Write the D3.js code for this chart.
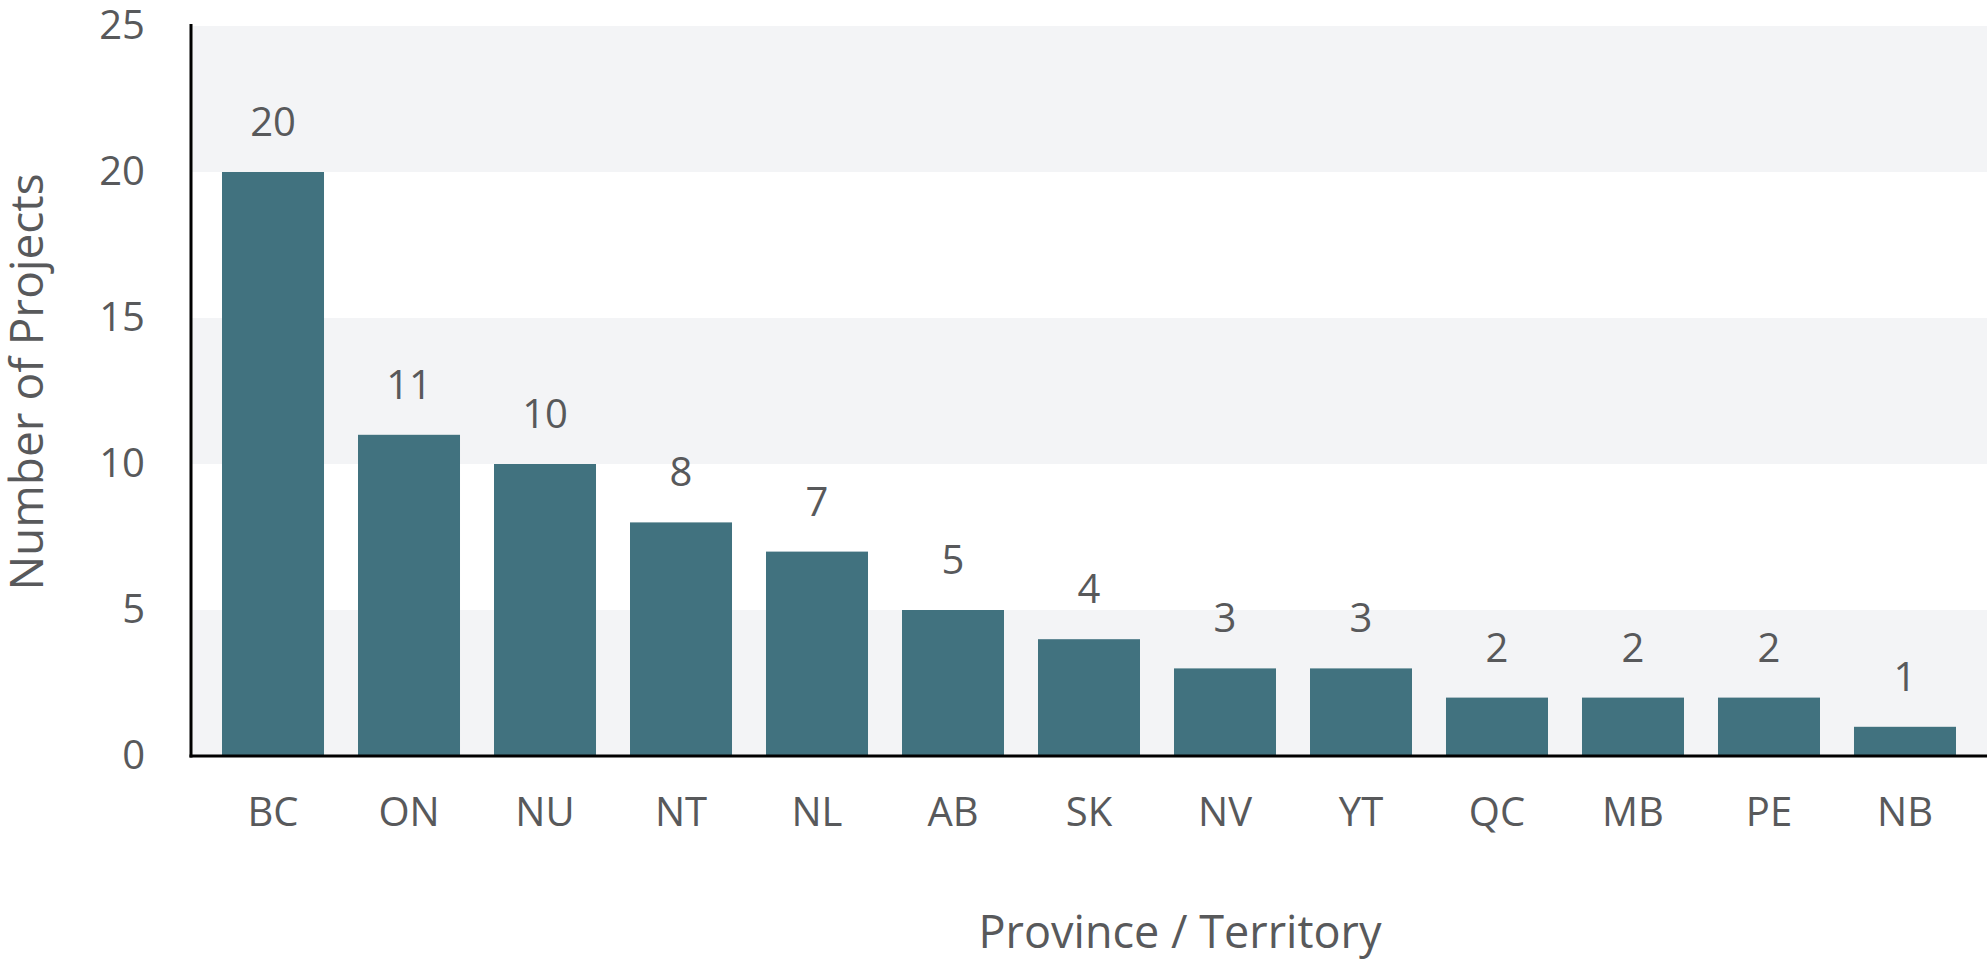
<!DOCTYPE html>
<html>
<head>
<meta charset="utf-8">
<script src="https://cdn.jsdelivr.net/npm/d3@7"></script>
<style>
  body { margin: 0; background: #fff; }
  text { font-family: "Open Sans", "Noto Sans", sans-serif; fill: #58595b; }
</style>
</head>
<body>
<script>
// data
var provinces = ["BC", "ON", "NU", "NT", "NL", "AB", "SK", "NV", "YT", "QC", "MB", "PE", "NB"]
var projects = [20, 11, 10, 8, 7, 5, 4, 3, 3, 2, 2, 2, 1]
var yTicks = [0, 5, 10, 15, 20, 25]
var bands = [[0, 5], [10, 15], [20, 25]]

var W = 1987, H = 964
var plotLeft = 191, plotRight = 1987, plotTop = 26, plotBottom = 756

var svg = d3.select("body").append("svg")
  .attr("width", W)
  .attr("height", H)

var x = d3.scaleBand()
  .domain(provinces)
  .range([plotLeft, plotRight])
  .paddingInner(0.25)
  .paddingOuter(0.228)

var y = d3.scaleLinear()
  .domain([0, 25])
  .range([plotBottom, plotTop])

/* bandes grises */
svg.selectAll("rect.band")
  .data(bands)
  .enter()
  .append("rect")
  .attr("class", "band")
  .attr("x", plotLeft)
  .attr("width", plotRight - plotLeft)
  .attr("y", function(d){ return y(d[1]) })
  .attr("height", function(d){ return y(d[0]) - y(d[1]) })
  .attr("fill", "#f3f4f6")

/* barres */
svg.selectAll("rect.bar")
  .data(projects)
  .enter()
  .append("rect")
  .attr("class", "bar")
  .attr("x", function(d, i){ return x(provinces[i]) })
  .attr("y", function(d){ return y(d) })
  .attr("width", x.bandwidth())
  .attr("height", function(d){ return y(0) - y(d) })
  .attr("fill", "#41727f")

/* valeurs */
svg.selectAll("text.value")
  .data(projects)
  .enter()
  .append("text")
  .attr("class", "value")
  .attr("x", function(d, i){ return x(provinces[i]) + x.bandwidth()/2 })
  .attr("y", function(d){ return y(d) - 36 })
  .attr("text-anchor", "middle")
  .attr("font-size", "40px")
  .text(function(d){ return d })

/* axes */
var yAxis = d3.axisLeft(y).tickValues(yTicks).tickSize(0).tickPadding(46)
var xAxis = d3.axisBottom(x).tickSize(0).tickPadding(42)

var gy = svg.append("g")
  .attr("transform", "translate(" + plotLeft + ",0)")
  .call(yAxis)
gy.select(".domain").remove()
gy.selectAll("text").attr("font-size", "40px").attr("fill", "#58595b").attr("font-family", null)

var gx = svg.append("g")
  .attr("transform", "translate(0," + plotBottom + ")")
  .call(xAxis)
gx.select(".domain").remove()
gx.selectAll("text").attr("font-size", "40px").attr("fill", "#58595b").attr("font-family", null)

svg.append("line")
  .attr("x1", plotLeft).attr("x2", plotLeft)
  .attr("y1", plotTop - 2).attr("y2", plotBottom + 1.5)
  .attr("stroke", "#000").attr("stroke-width", 3)

svg.append("line")
  .attr("x1", plotLeft - 1.5).attr("x2", plotRight)
  .attr("y1", plotBottom).attr("y2", plotBottom)
  .attr("stroke", "#000").attr("stroke-width", 3)

/* titres */
svg.append("text")
  .attr("x", 1180)
  .attr("y", 948)
  .attr("text-anchor", "middle")
  .attr("font-size", "45px")
  .text("Province / Territory")

svg.append("text")
  .attr("transform", "translate(43,382) rotate(-90)")
  .attr("text-anchor", "middle")
  .attr("font-size", "46px")
  .text("Number of Projects")
</script>
</body>
</html>
